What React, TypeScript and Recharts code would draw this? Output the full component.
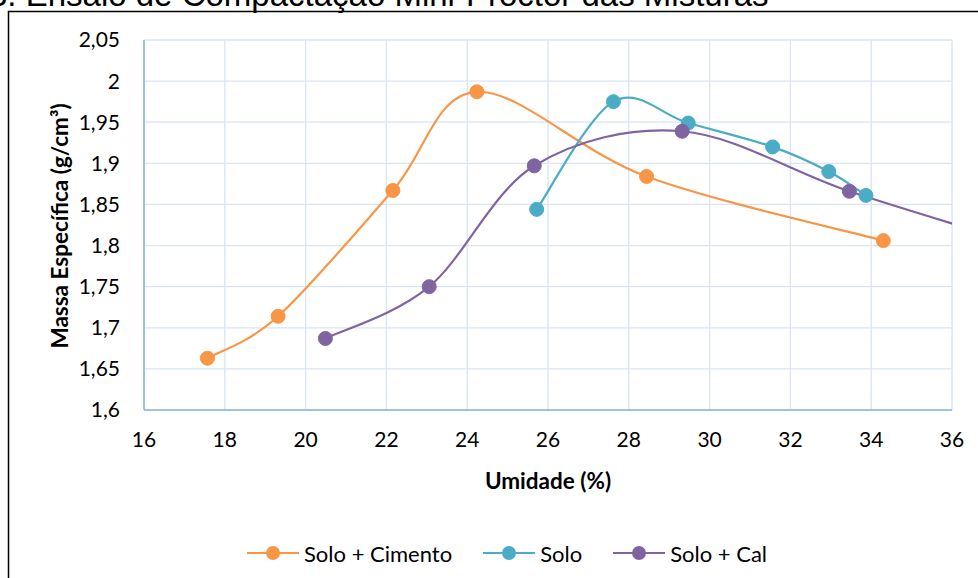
import React from "react";
import { LineChart, Line, XAxis, YAxis, CartesianGrid } from "recharts";

// Compaction curves: moisture content (%) vs. dry unit weight (g/cm³)
const soloCimentoUmidade = [17.57, 19.32, 22.16, 24.24, 28.44, 34.3];
const soloCimentoMassa = [1.663, 1.714, 1.867, 1.987, 1.884, 1.806];

const soloUmidade = [25.72, 27.62, 29.47, 31.56, 32.95, 33.87];
const soloMassa = [1.844, 1.975, 1.949, 1.92, 1.89, 1.861];

const soloCalUmidade = [20.49, 23.06, 25.66, 29.32, 33.46, 37.8];
const soloCalMassa = [1.687, 1.75, 1.897, 1.939, 1.866, 1.8];

const xTicks = [16, 18, 20, 22, 24, 26, 28, 30, 32, 34, 36];
const yTicks = [1.6, 1.65, 1.7, 1.75, 1.8, 1.85, 1.9, 1.95, 2, 2.05];

const seriesNames = ["Solo + Cimento", "Solo", "Solo + Cal"];
const seriesColors = ["#F79646", "#4BACC6", "#8064A2"];

const toPoints = (xs: number[], ys: number[]) => xs.map((x, i) => ({ x, y: ys[i] }));

const series = [
  toPoints(soloCimentoUmidade, soloCimentoMassa),
  toPoints(soloUmidade, soloMassa),
  toPoints(soloCalUmidade, soloCalMassa),
];

// Smoothed line (Catmull-Rom style Bézier, tangent = (next - prev) / 6)
const smoothCurve = (context: any) => {
  let pts: [number, number][] = [];
  return {
    areaStart() {},
    areaEnd() {},
    lineStart() {
      pts = [];
    },
    point(x: number, y: number) {
      pts.push([+x, +y]);
    },
    lineEnd() {
      const n = pts.length;
      if (n === 0) return;
      context.moveTo(pts[0][0], pts[0][1]);
      if (n === 1) return;
      for (let i = 0; i < n - 1; i++) {
        const p0 = pts[i - 1] || pts[i];
        const p1 = pts[i];
        const p2 = pts[i + 1];
        const p3 = pts[i + 2] || pts[i + 1];
        const c1x = p1[0] + (p2[0] - p0[0]) / 6;
        const c1y = p1[1] + (p2[1] - p0[1]) / 6;
        const c2x = p2[0] - (p3[0] - p1[0]) / 6;
        const c2y = p2[1] - (p3[1] - p1[1]) / 6;
        context.bezierCurveTo(c1x, c1y, c2x, c2y, p2[0], p2[1]);
      }
    },
  };
};

const fmt = (v: number) => String(v).replace(".", ",");

const FONT = "Lato, 'Open Sans', sans-serif";
const tickStyle = { fontFamily: FONT, fontSize: 21, fill: "#000" };

export default function App() {
  return (
    <div
      style={{
        position: "absolute",
        left: 0,
        top: 0,
        width: 978,
        height: 578,
        overflow: "hidden",
        background: "#fff",
      }}
    >
      <LineChart
        width={978}
        height={578}
        margin={{ top: 40, right: 26, bottom: 138, left: 84 }}
        style={{ position: "absolute", left: 0, top: 0 }}
      >
        <CartesianGrid stroke="#D9E4F4" strokeWidth={1.3} />
        <XAxis
          type="number"
          dataKey="x"
          domain={[16, 36]}
          ticks={xTicks}
          allowDataOverflow
          height={30}
          tickSize={0}
          tickMargin={22}
          tickLine={false}
          axisLine={{ stroke: "#8DB3E2", strokeWidth: 1.6 }}
          tick={tickStyle}
        />
        <YAxis
          type="number"
          dataKey="y"
          domain={[1.6, 2.05]}
          ticks={yTicks}
          allowDataOverflow
          width={60}
          tickSize={0}
          tickMargin={24}
          tickLine={false}
          axisLine={{ stroke: "#8DB3E2", strokeWidth: 1.6 }}
          tick={tickStyle}
          tickFormatter={fmt}
        />
        {series.map((data, i) => (
          <Line
            key={seriesNames[i]}
            data={data}
            dataKey="y"
            name={seriesNames[i]}
            type={smoothCurve as any}
            stroke={seriesColors[i]}
            strokeWidth={2.2}
            dot={{ r: 7, fill: seriesColors[i], stroke: seriesColors[i], strokeWidth: 1 }}
            activeDot={false}
            isAnimationActive={false}
          />
        ))}
      </LineChart>

      <svg
        width={978}
        height={578}
        style={{ position: "absolute", left: 0, top: 0, pointerEvents: "none" }}
      >
        <text
          x={-11}
          y={5.5}
          fontFamily="'Liberation Sans', Arial, sans-serif"
          fontSize={33}
          fill="#000"
        >
          3. Ensaio de Compactação Mini-Proctor das Misturas
        </text>
        <path d="M8.5,600 V11.5 H990" fill="none" stroke="#000" strokeWidth={1.5} />
        <text
          x={548}
          y={480}
          textAnchor="middle"
          dominantBaseline="central"
          fontFamily={FONT}
          fontWeight={700}
          fontSize={22.5}
          fill="#000"
        >
          Umidade (%)
        </text>
        <text
          transform="translate(59,226) rotate(-90)"
          textAnchor="middle"
          dominantBaseline="central"
          fontFamily={FONT}
          fontWeight={700}
          fontSize={22.5}
          fill="#000"
        >
          Massa Específica (g/cm³)
        </text>
      </svg>

      <div
        style={{
          position: "absolute",
          left: 247,
          top: 538,
          height: 30,
          display: "flex",
          alignItems: "center",
          fontFamily: FONT,
          fontSize: 22,
          color: "#000",
          whiteSpace: "nowrap",
        }}
      >
        {seriesNames.map((name, i) => (
          <div
            key={name}
            style={{ display: "flex", alignItems: "center", marginRight: i < 2 ? 31 : 0 }}
          >
            <svg width={52} height={20} style={{ marginRight: 5 }}>
              <line x1={0} y1={10} x2={52} y2={10} stroke={seriesColors[i]} strokeWidth={2.2} />
              <circle cx={26} cy={10} r={7} fill={seriesColors[i]} />
            </svg>
            <span>{name}</span>
          </div>
        ))}
      </div>
    </div>
  );
}
